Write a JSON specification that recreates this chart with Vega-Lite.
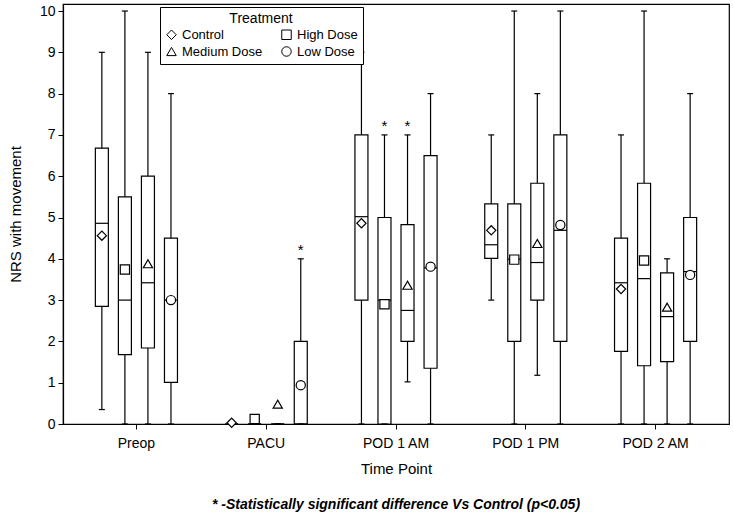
{
  "$schema": "https://vega.github.io/schema/vega-lite/v6.json",
  "width": 666,
  "height": 420,
  "autosize": {"type": "none"},
  "padding": {"left": 63, "top": 4, "right": 4, "bottom": 96},
  "background": "white",
  "config": {
    "font": "Liberation Sans",
    "view": {"stroke": "black", "strokeWidth": 1.2},
    "axis": {
      "grid": false,
      "domainColor": "black",
      "tickColor": "black",
      "labelColor": "black",
      "titleColor": "black",
      "labelFont": "Liberation Sans",
      "titleFont": "Liberation Sans",
      "titleFontWeight": "normal",
      "labelFontSize": 14,
      "titleFontSize": 15,
      "tickSize": 5,
      "domainWidth": 1.2
    }
  },
  "title": {
    "text": "* -Statistically significant difference Vs Control (p<0.05)",
    "orient": "bottom",
    "anchor": "middle",
    "font": "Liberation Sans",
    "fontStyle": "italic",
    "fontWeight": "bold",
    "fontSize": 14,
    "color": "black",
    "offset": 22
  },
  "data": {
    "values": [
      {"time": "Preop", "group": "Control", "min": 0.35, "q1": 2.85, "median": 4.86, "q3": 6.68, "max": 9, "mean": 4.56, "sig": false},
      {"time": "Preop", "group": "High Dose", "min": 0, "q1": 1.68, "median": 3.0, "q3": 5.5, "max": 10, "mean": 3.74, "sig": false},
      {"time": "Preop", "group": "Medium Dose", "min": 0, "q1": 1.84, "median": 3.42, "q3": 6.0, "max": 9, "mean": 3.88, "sig": false},
      {"time": "Preop", "group": "Low Dose", "min": 0, "q1": 1.01, "median": 3.0, "q3": 4.5, "max": 8, "mean": 3.0, "sig": false},
      {"time": "PACU", "group": "Control", "min": 0, "q1": 0, "median": 0, "q3": 0, "max": 0, "mean": 0.03, "sig": false},
      {"time": "PACU", "group": "High Dose", "min": 0, "q1": 0, "median": 0, "q3": 0, "max": 0, "mean": 0.12, "sig": false},
      {"time": "PACU", "group": "Medium Dose", "min": 0, "q1": 0, "median": 0, "q3": 0, "max": 0, "mean": 0.48, "sig": false},
      {"time": "PACU", "group": "Low Dose", "min": 0, "q1": 0, "median": 0, "q3": 2.0, "max": 4.0, "mean": 0.94, "sig": true},
      {"time": "POD 1 AM", "group": "Control", "min": 0, "q1": 3.0, "median": 5.02, "q3": 7.0, "max": 9, "mean": 4.86, "sig": false},
      {"time": "POD 1 AM", "group": "High Dose", "min": 0, "q1": 0, "median": 3.0, "q3": 5.0, "max": 7, "mean": 2.9, "sig": true},
      {"time": "POD 1 AM", "group": "Medium Dose", "min": 1.02, "q1": 2.0, "median": 2.75, "q3": 4.83, "max": 7, "mean": 3.36, "sig": true},
      {"time": "POD 1 AM", "group": "Low Dose", "min": 0, "q1": 1.35, "median": 3.78, "q3": 6.5, "max": 8, "mean": 3.81, "sig": false},
      {"time": "POD 1 PM", "group": "Control", "min": 3.0, "q1": 4.01, "median": 4.34, "q3": 5.33, "max": 7, "mean": 4.69, "sig": false},
      {"time": "POD 1 PM", "group": "High Dose", "min": 0, "q1": 2.0, "median": 3.99, "q3": 5.33, "max": 10, "mean": 3.98, "sig": false},
      {"time": "POD 1 PM", "group": "Medium Dose", "min": 1.18, "q1": 3.0, "median": 3.91, "q3": 5.83, "max": 8, "mean": 4.37, "sig": false},
      {"time": "POD 1 PM", "group": "Low Dose", "min": 0, "q1": 2.0, "median": 4.69, "q3": 7.0, "max": 10, "mean": 4.82, "sig": false},
      {"time": "POD 2 AM", "group": "Control", "min": 0, "q1": 1.76, "median": 3.42, "q3": 4.5, "max": 7, "mean": 3.27, "sig": false},
      {"time": "POD 2 AM", "group": "High Dose", "min": 0, "q1": 1.41, "median": 3.52, "q3": 5.83, "max": 10, "mean": 3.96, "sig": false},
      {"time": "POD 2 AM", "group": "Medium Dose", "min": 0, "q1": 1.51, "median": 2.6, "q3": 3.66, "max": 4.0, "mean": 2.83, "sig": false},
      {"time": "POD 2 AM", "group": "Low Dose", "min": 0, "q1": 2.0, "median": 3.69, "q3": 5.0, "max": 8, "mean": 3.61, "sig": false}
    ]
  },
  "encoding": {
    "x": {
      "field": "time",
      "type": "nominal",
      "sort": ["Preop", "PACU", "POD 1 AM", "POD 1 PM", "POD 2 AM"],
      "scale": {"paddingInner": 0, "paddingOuter": 0.0656},
      "axis": {"title": "Time Point", "labelAngle": 0, "labelPadding": 7, "titlePadding": 11}
    },
    "xOffset": {
      "field": "group",
      "type": "nominal",
      "sort": ["Control", "High Dose", "Medium Dose", "Low Dose"],
      "scale": {"paddingInner": 0, "paddingOuter": 0.817}
    }
  },
  "layer": [
    {
      "mark": {"type": "rule", "color": "black", "strokeWidth": 1.2},
      "encoding": {
        "y": {
          "field": "min",
          "type": "quantitative",
          "scale": {"domain": [0, 10.17], "nice": false, "zero": false},
          "axis": {"title": "NRS with movement", "values": [0,1,2,3,4,5,6,7,8,9,10], "labelPadding": 3, "titlePadding": 16}
        },
        "y2": {"field": "max"}
      }
    },
    {
      "mark": {"type": "bar", "fill": "white", "stroke": "black", "strokeWidth": 1.2, "width": 13},
      "encoding": {
        "y": {"field": "q1", "type": "quantitative"},
        "y2": {"field": "q3"}
      }
    },
    {
      "mark": {"type": "tick", "color": "black", "size": 13, "thickness": 1.2, "orient": "horizontal", "opacity": 1},
      "encoding": {"y": {"field": "median", "type": "quantitative"}}
    },
    {
      "mark": {"type": "tick", "color": "black", "size": 6, "thickness": 1.2, "orient": "horizontal", "opacity": 1},
      "encoding": {"y": {"field": "min", "type": "quantitative"}}
    },
    {
      "mark": {"type": "tick", "color": "black", "size": 6, "thickness": 1.2, "orient": "horizontal", "opacity": 1},
      "encoding": {"y": {"field": "max", "type": "quantitative"}}
    },
    {
      "mark": {"type": "point", "filled": false, "fill": "white", "stroke": "black", "strokeWidth": 1.2, "size": 85, "opacity": 1},
      "encoding": {
        "y": {"field": "mean", "type": "quantitative"},
        "shape": {
          "field": "group",
          "type": "nominal",
          "scale": {"domain": ["Control", "Medium Dose", "High Dose", "Low Dose"], "range": ["diamond", "triangle-up", "square", "circle"]},
          "legend": {
            "title": "Treatment",
            "orient": "none",
            "legendX": 97,
            "legendY": 3,
            "columns": 2,
            "columnPadding": 16,
            "rowPadding": 2,
            "padding": 5,
            "strokeColor": "black",
            "fillColor": "white",
            "titleAnchor": "middle",
            "titleFontSize": 14,
            "titleFontWeight": "normal",
            "titleColor": "black",
            "titlePadding": 2,
            "labelFontSize": 13,
            "labelColor": "black",
            "symbolSize": 90,
            "symbolStrokeWidth": 1,
            "labelOffset": 4
          }
        }
      }
    },
    {
      "transform": [{"filter": "datum.sig"}],
      "mark": {"type": "text", "text": "*", "dy": -9, "fontSize": 15, "color": "black"},
      "encoding": {"y": {"field": "max", "type": "quantitative"}}
    }
  ]
}
